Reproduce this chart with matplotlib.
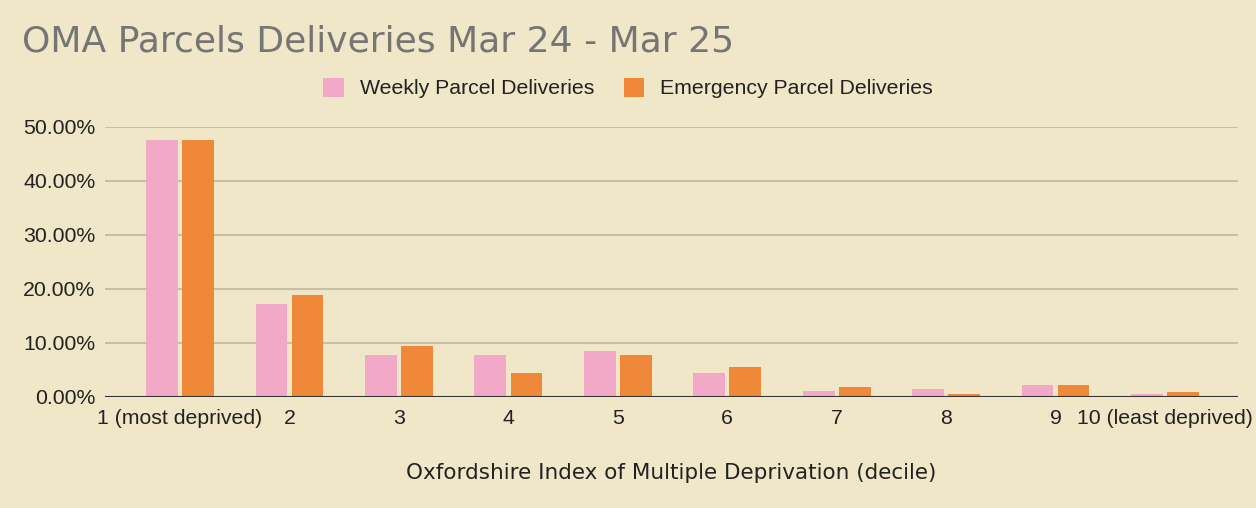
import matplotlib.pyplot as plt
import numpy as np
from matplotlib.ticker import PercentFormatter

deciles = ['1 (most deprived)', '2', '3', '4', '5', '6', '7', '8', '9', '10 (least deprived)']
weekly = [47.6, 17.2, 7.7, 7.7, 8.5, 4.5, 1.2, 1.5, 2.2, 0.5]
emergency = [47.6, 18.9, 9.5, 4.4, 7.7, 5.5, 1.8, 0.5, 2.2, 0.9]

bg = '#EFE7C8'
pink = '#F2A9C8'
orange = '#F0883A'

fig = plt.figure(figsize=(12.56, 5.08), dpi=100, facecolor=bg)
ax = fig.add_axes([105 / 1256, 1 - 397 / 508, (1238 - 105) / 1256, (397 - 127) / 508])
ax.set_facecolor(bg)

x = np.arange(len(deciles))
w = 0.29
ax.bar(x - 0.165, weekly, w, color=pink, label='Weekly Parcel Deliveries', zorder=3)
ax.bar(x + 0.165, emergency, w, color=orange, label='Emergency Parcel Deliveries', zorder=3)

ax.set_xlim(-0.686, 9.667)
ax.set_ylim(0, 50)
ax.set_yticks([0, 10, 20, 30, 40, 50])
ax.yaxis.set_major_formatter(PercentFormatter(decimals=2))
ax.grid(axis='y', color='#C6C0A6', linewidth=1.5, zorder=0)
ax.axhline(0, color='#333333', linewidth=1.5, zorder=4)
for s in ax.spines.values():
    s.set_visible(False)
ax.tick_params(length=0)
ax.set_xticks(x)
ax.set_xticklabels(deciles, fontfamily='Liberation Sans', fontsize=15.3, color='#222222')
for lbl in ax.get_yticklabels():
    lbl.set_fontfamily('Liberation Sans')
    lbl.set_fontsize(15.3)
    lbl.set_color('#222222')
ax.tick_params(axis='x', pad=9)
ax.tick_params(axis='y', pad=7)

ax.set_xlabel('Oxfordshire Index of Multiple Deprivation (decile)', fontsize=15.5,
              fontfamily='DejaVu Sans', color='#222222', labelpad=25)

fig.text(22 / 1256, 1 - 42 / 508, 'OMA Parcels Deliveries Mar 24 - Mar 25', fontsize=26,
         color='#757575', va='center', ha='left', fontfamily='DejaVu Sans')

leg = fig.legend(loc='center', bbox_to_anchor=(628 / 1256, 1 - 88 / 508), ncol=2, frameon=False,
                 prop={'family': 'Liberation Sans', 'size': 15.3}, handlelength=0.95, handleheight=1.0,
                 columnspacing=1.4, handletextpad=0.75)
for t in leg.get_texts():
    t.set_color('#222222')

fig.savefig('out.png', dpi=100, facecolor=bg)
